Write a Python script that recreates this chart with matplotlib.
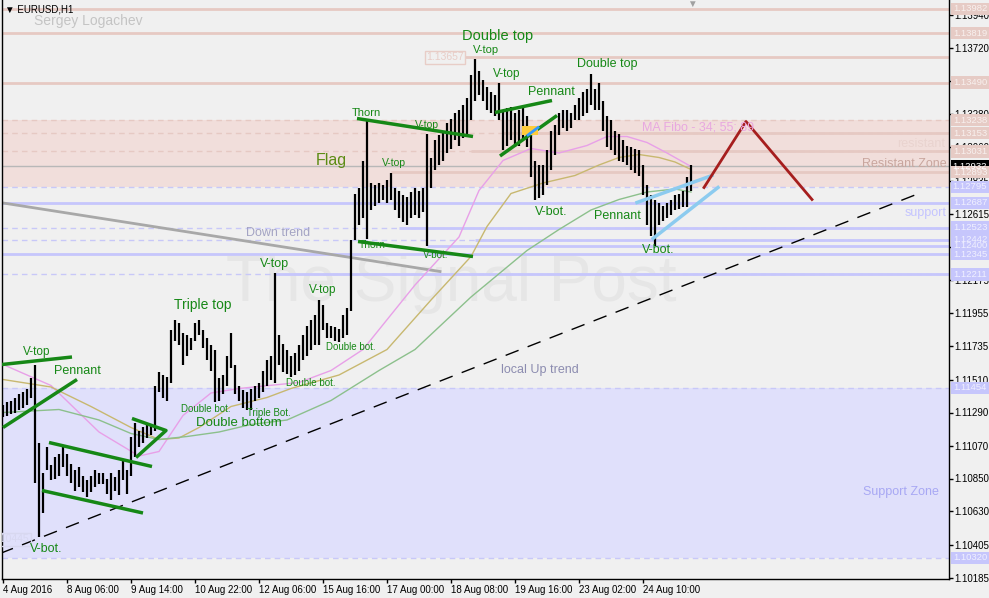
import matplotlib
matplotlib.use("Agg")
import matplotlib.pyplot as plt
import matplotlib.transforms as mtransforms
from matplotlib.patches import Rectangle
import numpy as np

plt.rcParams["font.family"] = ["Liberation Sans", "DejaVu Sans"]

W, H = 989, 598
BG = "#f0f0f0"
GREEN = "#168816"

# EURUSD H1 bars (4-digit pips)
bar_high = [
    11134, 11136, 11137, 11139, 11141, 11143, 11145, 11152, 11161, 11109,
    11089, 11106, 11094, 11099, 11101, 11106, 11101, 11095, 11091, 11093,
    11087, 11084, 11087, 11091, 11089, 11089, 11085, 11089, 11086, 11091,
    11097, 11091, 11113, 11122, 11117, 11119, 11121, 11121, 11147, 11156,
    11154, 11153, 11184, 11191, 11189, 11182, 11181, 11179, 11189, 11191,
    11184, 11179, 11174, 11171, 11152, 11154, 11167, 11182, 11161, 11147,
    11144, 11143, 11145, 11147, 11149, 11157, 11164, 11167, 11222, 11181,
    11175, 11171, 11167, 11169, 11174, 11181, 11187, 11191, 11194, 11204,
    11201, 11189, 11187, 11186, 11185, 11194, 11199, 11244, 11275, 11279,
    11297, 11324, 11282, 11281, 11282, 11281, 11284, 11289, 11279, 11277,
    11274, 11273, 11276, 11279, 11277, 11279, 11315, 11299, 11311, 11314,
    11317, 11322, 11325, 11329, 11331, 11334, 11339, 11354, 11365, 11357,
    11351, 11346, 11343, 11341, 11349, 11331, 11332, 11333, 11329, 11331,
    11332, 11327, 11315, 11297, 11294, 11294, 11304, 11317, 11321, 11329,
    11331, 11331, 11329, 11334, 11339, 11343, 11345, 11355, 11345, 11349,
    11337, 11327, 11324, 11317, 11315, 11311, 11307, 11306, 11305, 11304,
    11294, 11281, 11274, 11271, 11269, 11267, 11269, 11271, 11274, 11275,
    11277, 11286, 11294,
]
bar_low = [
    11126, 11127, 11128, 11129, 11131, 11132, 11134, 11139, 11082, 11046,
    11062, 11091, 11084, 11085, 11087, 11093, 11087, 11082, 11077, 11079,
    11076, 11073, 11076, 11079, 11081, 11081, 11075, 11071, 11077, 11074,
    11084, 11075, 11087, 11099, 11106, 11109, 11112, 11114, 11117, 11143,
    11139, 11137, 11149, 11177, 11174, 11161, 11167, 11171, 11177, 11181,
    11172, 11164, 11157, 11136, 11137, 11141, 11147, 11159, 11141, 11137,
    11132, 11131, 11131, 11137, 11139, 11143, 11147, 11151, 11149, 11161,
    11156, 11155, 11153, 11154, 11157, 11164, 11167, 11171, 11174, 11174,
    11184, 11179, 11179, 11177, 11176, 11179, 11181, 11197, 11244, 11254,
    11259, 11245, 11264, 11267, 11269, 11271, 11269, 11271, 11264, 11259,
    11256, 11254, 11259, 11261, 11259, 11263, 11240, 11279, 11291, 11294,
    11297, 11302, 11305, 11311, 11307, 11312, 11314, 11324, 11337, 11341,
    11337, 11331, 11329, 11327, 11324, 11304, 11307, 11311, 11306, 11307,
    11311, 11306, 11286, 11271, 11272, 11274, 11281, 11291, 11301, 11314,
    11319, 11317, 11319, 11324, 11324, 11327, 11329, 11334, 11331, 11331,
    11317, 11306, 11304, 11301, 11297, 11296, 11294, 11291, 11289, 11287,
    11274, 11254, 11247, 11240, 11254, 11257, 11259, 11261, 11264, 11265,
    11266, 11266, 11277,
]

# moving averages (34 / 55 / 89), sampled along the chart
ma34_idx = [0, 12, 24, 34, 39, 45, 52, 59, 74, 82, 90, 103, 114, 119, 125, 132, 139, 146, 151, 156, 161, 166, 172]
ma34_val = [11161, 11147, 11116, 11100, 11103, 11127, 11142, 11145, 11149, 11157, 11171, 11214, 11246, 11277,
            11297, 11305, 11302, 11307, 11313, 11313, 11309, 11302, 11293]
ma55_idx = [0, 12, 22, 32, 39, 44, 49, 57, 66, 72, 84, 96, 107, 117, 121, 127, 135, 143, 149, 154, 159, 164, 168, 172]
ma55_val = [11151, 11146, 11133, 11119, 11111, 11112, 11119, 11133, 11139, 11145, 11154, 11171, 11204, 11233,
            11253, 11275, 11282, 11287, 11294, 11299, 11301, 11299, 11296, 11291]
ma89_idx = [0, 14, 24, 32, 39, 46, 54, 62, 71, 82, 94, 103, 117, 131, 139, 147, 154, 161, 168, 172]
ma89_val = [11129, 11131, 11124, 11115, 11111, 11113, 11116, 11121, 11124, 11137, 11157, 11171, 11206, 11237,
            11251, 11264, 11271, 11276, 11278, 11276]

x_tick_idx = [0, 16, 32, 48, 64, 80, 96, 112, 128, 144, 160]
x_tick_labels = ["4 Aug 2016", "8 Aug 06:00", "9 Aug 14:00", "10 Aug 22:00", "12 Aug 06:00",
                 "15 Aug 16:00", "17 Aug 00:00", "18 Aug 08:00", "19 Aug 16:00", "23 Aug 02:00",
                 "24 Aug 10:00"]
y_ticks = [1.13940, 1.13720, 1.13500, 1.13280, 1.13060, 1.12835, 1.12615, 1.12395, 1.12175,
           1.11955, 1.11735, 1.11510, 1.11290, 1.11070, 1.10850, 1.10630, 1.10405, 1.10185]

# horizontal levels and the bar where each one starts
res_levels = [1.13982, 1.13819, 1.13490, 1.13153, 1.13031, 1.12893]
res_start = [-1, -1, -1, 125, 117, 97]
sup_levels = [1.12687, 1.12523, 1.12442, 1.12400, 1.12345, 1.12211]
sup_start = [-1, 99, 118, 106, -1, 68]
top_level = 1.13657
current_price = 1.12932
res_zone = (1.12795, 1.13238)
sup_zone = (1.10320, 1.11454)
left_level = 1.10445

# hand-drawn lines: (bar index list, price list)
down_trend = ([-0.75, 109.25], [1.12690, 1.12230])
up_trend = ([-0.75, 228], [1.10350, 1.12740])
green_lines = [
    ([-0.25, 17.25], [1.1161, 1.1166]),
    ([0, 18.5], [1.1119, 1.1151]),
    ([11.5, 37.25], [1.1109, 1.1093]),
    ([9.75, 35], [1.1077, 1.1062]),
    ([32.25, 40.75, 33.25], [1.1125, 1.1117, 1.1099]),
    ([88.5, 117.5], [1.1325, 1.1313]),
    ([88.75, 117.5], [1.1243, 1.1233]),
    ([123, 137.25], [1.1329, 1.1337]),
    ([124.25, 138.5], [1.1300, 1.1327]),
]
blue_lines = [
    ([158.5, 177.25], [1.1269, 1.1287]),
    ([162.5, 178.75], [1.1245, 1.1279]),
]
red_path = ([175.25, 185.75, 202.25], [1.1279, 1.1323, 1.1271])
box_span = ([129.75, 133.75], [1.1314, 1.1320])
box_line = ([131.25, 133.75], [1.1314, 1.1319])

annotations = [
    ("Double top", 498, 36, 10.5), ("V-top", 486, 50, 8), ("V-top", 507, 74, 8.5),
    ("Pennant", 551, 92, 9), ("Double top", 607, 64, 9), ("Thorn", 366, 113, 8),
    ("V-top", 427, 125, 7.5), ("V-top", 394, 163, 7.5), ("V-bot.", 551, 212, 9),
    ("Pennant", 617, 216, 9), ("Thorn", 372, 245, 7.5), ("V-bot.", 436, 255, 7),
    ("V-bot.", 658, 250, 9), ("V-top", 275, 264, 9), ("V-top", 323, 290, 8.5),
    ("Triple top", 203, 305, 10), ("Double bot.", 351, 347, 7), ("Double bot.", 311, 383, 7),
    ("V-top", 37, 352, 8.5), ("Pennant", 77, 371, 9), ("Double bot.", 206, 409, 7),
    ("Triple Bot.", 269, 413, 7), ("Double bottom", 239, 423, 9.5), ("V-bot.", 46, 549, 9),
]
notes = [
    ("Sergey Logachev", 88, 21, 10, "#c4c4c4"), ("Down trend", 278, 233, 9, "#a4a4c4"),
    ("local Up trend", 540, 370, 9, "#8c8cb0"), ("MA Fibo - 34; 55; 89", 698, 127, 9, "#e8a8e0"),
    ("resistant", 921, 144, 9, "#e9d3cf"), ("Resistant Zone", 904, 164, 9, "#c9a69e"),
    ("support", 926, 213, 9, "#c4c4ff"), ("Support Zone", 901, 492, 9, "#a8a8f4"),
]


def fxy(x, y):
    return x / W, 1 - y / H


fig = plt.figure(figsize=(W / 100, H / 100), dpi=100, facecolor=BG)
ax = fig.add_axes([2 / W, 1 - 579 / H, 947 / W, 579 / H], facecolor=BG)
ax.set_xlim(-0.25, 236.5)
ax.set_ylim(1.10180, 1.14040)

idx = np.arange(len(bar_high))
highs = np.array(bar_high) / 1e4
lows = np.array(bar_low) / 1e4

# zones
ax.axhspan(res_zone[0], res_zone[1], color="#f1dedb", zorder=0.2, lw=0)
ax.axhspan(sup_zone[0], sup_zone[1], color="#e0e0fb", zorder=0.2, lw=0)

ax.text(112, 1.1215, "The Signal Post", fontsize=46, color="#e6e6e6", ha="center", va="center", zorder=0.4)

# levels
for lvl in [res_zone[1], 1.13153, 1.13031]:
    ax.axhline(lvl, color="#e6c9c3", lw=1, ls=(0, (4, 3)), zorder=0.5)
for lvl in [res_zone[0], sup_zone[0], sup_zone[1], 1.12523, 1.12442, 1.12211]:
    ax.axhline(lvl, color="#c8c8f8", lw=1, ls=(0, (4, 3)), zorder=0.5)
for lvl, start in zip(res_levels, res_start):
    ax.hlines(lvl, start, 240, color="#e6c9c3", lw=2, zorder=0.6)
ax.hlines(top_level, 115.5, 240, color="#e6c9c3", lw=2, zorder=0.6)
for lvl, start in zip(sup_levels, sup_start):
    ax.hlines(lvl, start, 240, color="#c6c6fc", lw=2, zorder=0.6)
ax.axhline(current_price, color="#b8b8b8", lw=1, zorder=0.6)

# trend lines
ax.plot(*down_trend, color="#a8a8a8", lw=2, zorder=1)
ax.plot(*up_trend, color="black", lw=1, ls=(0, (10, 7)), zorder=1)

# moving averages
ax.plot(ma34_idx, np.array(ma34_val) / 1e4, color="#e8a0e8", lw=1, zorder=1.5)
ax.plot(ma55_idx, np.array(ma55_val) / 1e4, color="#c8b870", lw=1, zorder=1.5)
ax.plot(ma89_idx, np.array(ma89_val) / 1e4, color="#8cc08c", lw=1, zorder=1.5)

# bars
ax.vlines(idx, lows, highs, colors="black", lw=1.6, zorder=3)

# pattern drawings
for xs, ys in green_lines:
    ax.plot(xs, ys, color=GREEN, lw=2.5, zorder=3.5, solid_capstyle="butt")
for xs, ys in blue_lines:
    ax.plot(xs, ys, color="#8ccbef", lw=2.5, zorder=3.5)
ax.plot(*red_path, color="#a61e1e", lw=2, zorder=3.5)
ax.add_patch(Rectangle((box_span[0][0], box_span[1][0]), box_span[0][1] - box_span[0][0],
                       box_span[1][1] - box_span[1][0], fc="#ffcb3a", ec="none", zorder=3.6))
ax.plot(*box_line, color="#3399ff", lw=2, zorder=3.7)

ax.text(115.2, top_level, f"{top_level:.5f}", ha="right", va="center", fontsize=7.5, color="#e8cdc7",
        bbox=dict(boxstyle="square,pad=0.15", fc="none", ec="#e8cdc7", lw=1), zorder=4)
ax.text(6.5, left_level, f"{left_level:.5f}", ha="right", va="center", fontsize=7.5, color="#d8d8f0",
        bbox=dict(boxstyle="square,pad=0.15", fc="none", ec="#d8d8f0", lw=1), zorder=4, clip_on=True)

# axes styling
ax.spines["top"].set_visible(False)
for s in ["left", "right", "bottom"]:
    ax.spines[s].set_color("black")
    ax.spines[s].set_linewidth(1)
ax.yaxis.tick_right()
ax.set_yticks(y_ticks)
ax.set_yticklabels([f"{v:.5f}" for v in y_ticks])
ax.set_xticks(x_tick_idx)
ax.set_xticklabels(x_tick_labels, ha="left")
ax.tick_params(axis="both", labelsize=7, length=3, width=1, color="black", pad=1)
ax.tick_params(axis="x", pad=1.5)

# price tags on the right
trans = mtransforms.blended_transform_factory(ax.transAxes, ax.transData)
x0 = 1.0021
bw = 38 / 947


def price_tag(level, face, text_color):
    ax.add_patch(Rectangle((x0, level - 0.00041), bw, 0.00082, transform=trans, fc=face, ec="none",
                           clip_on=False, zorder=10))
    ax.text(x0 + bw / 2, level, f"{level:.5f}", transform=trans, ha="center", va="center", fontsize=6.8,
            color=text_color, clip_on=False, zorder=11)


for lvl in [1.13982, 1.13819, 1.13490, res_zone[1], 1.13153, 1.13031]:
    price_tag(lvl, "#e6cbc5", "#f8f0ee")
price_tag(current_price, "black", "white")
price_tag(1.12893, "#e6cbc5", "#f8f0ee")
for lvl in [res_zone[0], 1.12687, 1.12523, 1.12442, 1.12400, 1.12345, 1.12211, sup_zone[1], sup_zone[0]]:
    price_tag(lvl, "#c6c6fc", "#f0f0ff")

# labels
for text, x, y, size in annotations:
    fig.text(*fxy(x, y), text, fontsize=size, color=GREEN, ha="center", va="center")
fig.text(*fxy(331, 160), "Flag", fontsize=11.5, color="#5c8c14", ha="center", va="center")
for text, x, y, size, color in notes:
    fig.text(*fxy(x, y), text, fontsize=size, color=color, ha="center", va="center")
fig.text(*fxy(5, 9), "\u25bc EURUSD,H1", fontsize=7, color="black", ha="left", va="center")
fig.text(*fxy(692, 4), "\u25bc", fontsize=7, color="#a0a0a0", ha="center", va="center")

fig.savefig("out.png", dpi=100, facecolor=BG)
